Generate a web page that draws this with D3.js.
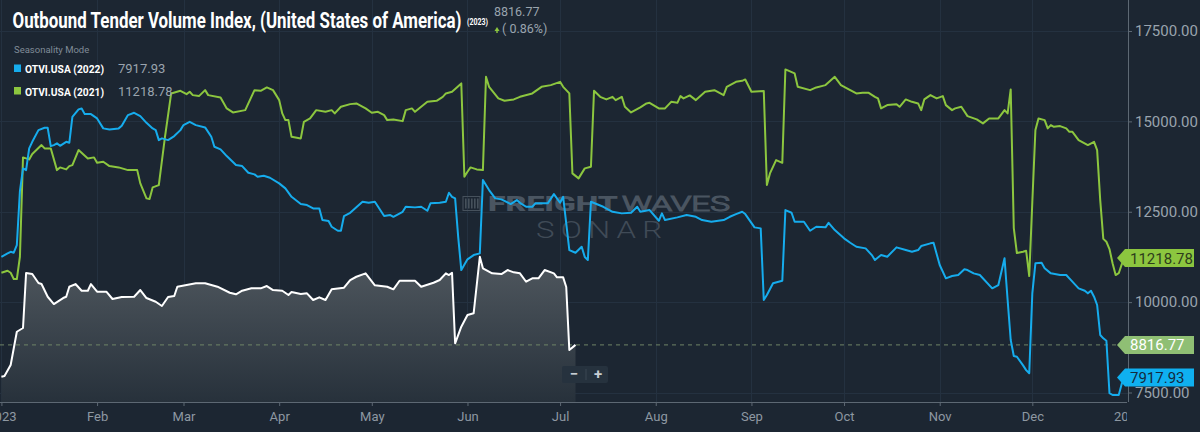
<!doctype html>
<html lang="en">
<head>
<meta charset="utf-8">
<title>Outbound Tender Volume Index</title>
<script src="https://cdn.jsdelivr.net/npm/d3@7"></script>
<style>
  html, body { margin: 0; padding: 0; background: #1c2632; }
  svg { display: block; font-family: Roboto, "Noto Sans", sans-serif; }
</style>
</head>
<body>
<script>
// days are counted from Jan 1 (0 = Jan 1), all series drawn on the 2023 calendar
var days2023 = [0,1,3,5,7,8,10,12,13,15,17,20,21,22,24,26,28,29,31,34,36,39,43,45,47,50,52,54,56,57,
  60,63,66,70,74,76,78,81,84,86,88,91,93,94,97,99,101,103,105,107,111,113,115,118,121,125,127,129,134,136,
  140,142,144,145,146,147,149,151,153,155,156,159,162,164,166,168,170,172,174,176,179,180,182,183,184,186];
var otvi2023 = [7937,7957,8261,9181,9284,10805,10777,10528,10500,10149,9947,10113,10149,10426,10500,10315,10315,10500,10288,10288,
  10086,10141,10149,10334,10113,10011,9892,10141,10169,10426,10473,10520,10520,10426,10260,10216,10315,10382,10382,10445,
  10334,10315,10196,10279,10224,10243,10058,10133,10058,10354,10398,10611,10702,10796,10464,10426,10354,10592,10592,10426,
  10536,10611,10796,10749,10813,8861,9320,9643,9690,11255,10934,10796,10777,10887,10824,10796,10564,10658,10658,10887,
  10796,10686,10686,10420,8675,8817];

var days2022 = [0,2,3,4,5,6,7,8,9,10,12,14,15,16,17,18,19,21,22,23,25,26,27,29,31,33,35,38,39,41,
  43,45,47,49,50,51,52,54,56,58,59,61,63,66,68,69,71,73,76,78,80,82,83,85,87,90,92,94,97,99,
  101,103,104,106,107,109,110,111,113,117,119,121,124,126,127,130,131,134,136,138,139,142,144,145,146,147,148,149,151,153,
  155,156,158,160,162,165,167,168,170,172,173,177,179,181,182,184,186,188,189,190,191,195,198,201,204,206,207,210,213,214,
  215,219,222,225,227,230,234,236,238,240,241,244,246,247,248,250,253,254,256,257,260,262,264,267,268,270,273,275,277,280,
  282,283,285,287,290,293,295,297,298,301,302,304,306,308,310,312,313,315,317,321,323,325,326,327,328,329,331,332,333,334,
  335,337,338,340,343,345,346,349,351,352,353,354,355,356,357,358,359,360,361,362,363,364];
var otvi2022 = [11255,11349,11393,11366,11579,13072,13699,13652,14252,14435,14758,14822,14822,14316,14344,14391,14324,14435,14407,15126,15331,15358,15201,15201,15082,14806,14778,14806,14877,15173,
  15237,15146,14960,14806,14758,14482,14529,14482,14593,14758,14897,14988,14897,14833,14573,14297,14225,14040,13791,13763,13578,13534,13467,13495,13440,13285,13147,12914,12712,12685,
  12593,12593,12270,12242,12085,11974,11974,12381,12472,12776,12748,12776,12381,12408,12361,12499,12638,12621,12638,12527,12732,12748,12776,13025,12914,12870,11800,10887,11183,11302,
  11349,13376,13099,12870,12842,12712,12823,12748,12638,12638,12732,12732,12989,12748,12914,11440,11366,11532,11250,11164,12776,12638,12499,12455,12472,12638,12499,12546,12251,12455,
  12270,12345,12408,12361,12270,12223,12270,12361,12436,12499,12436,12068,12040,10058,10196,10520,10592,12546,12472,12223,12223,11974,12085,12068,12195,11993,11764,11642,11532,11487,
  11302,11164,11302,11255,11515,11440,11393,11440,11551,11626,11642,11026,10658,10722,10749,10907,10888,10796,10749,10382,10473,11211,10058,8952,8510,8490,8250,8120,8031,10243,
  11073,11089,10935,10796,10749,10749,10658,10382,10315,10243,10315,10150,9920,9090,8999,8933,7480,7431,7431,7431,7750,7918];

var days2021 = [0,2,3,4,5,6,7,9,10,13,14,16,18,19,21,22,23,25,28,30,31,33,35,38,41,44,45,47,48,49,
  51,53,55,58,60,61,62,64,66,67,71,73,75,79,82,84,86,88,90,91,92,93,94,97,98,100,102,105,107,108,
  110,113,115,118,120,122,124,125,127,130,131,133,134,136,138,141,143,144,146,149,150,151,152,154,156,157,158,161,163,166,
  168,172,175,178,181,182,184,185,187,189,191,192,194,196,198,199,201,202,204,207,209,210,213,215,217,219,220,221,223,225,
  228,231,234,235,238,240,241,243,247,248,249,251,253,254,257,258,262,264,267,270,272,275,277,279,281,283,284,285,287,290,
  291,293,295,297,298,299,301,303,305,306,308,309,311,313,316,318,320,323,325,326,327,328,329,331,332,333,334,335,336,338,
  339,340,341,343,345,346,347,349,352,354,355,356,357,358,359,360,361,362,363,364];
var otvi2021 = [10813,10868,10813,10639,10639,11255,14004,13948,14095,14344,14252,14252,13652,13727,13672,13763,13791,14205,13976,14004,13854,13882,13763,13727,13652,13652,13285,12870,12851,13174,
  13238,14573,15773,15845,15754,15818,15726,15699,15864,15726,15663,15358,15248,15311,15864,15845,15939,15864,15588,15220,15035,15035,14573,14529,14988,15082,15311,15264,15311,15220,
  15403,15477,15497,15359,15237,15264,15173,15035,15054,15007,15311,15359,15264,15403,15541,15569,15679,15773,15818,16050,13467,13606,13727,13672,13652,16232,15956,15635,15569,15607,
  15679,15773,15956,16003,16094,15956,15773,13561,13423,13700,13744,15845,15679,15607,15679,15588,15679,15403,15248,15386,15497,15513,15359,15359,15541,15513,15699,15635,15718,15588,
  15818,15864,15726,15956,16094,16122,16160,15818,15837,13238,13561,13929,13854,16437,16326,15956,15864,15939,16003,16232,16003,15864,15773,15790,15790,15679,15635,15359,15450,15477,
  15403,15607,15541,15497,15311,15607,15726,15635,15699,15450,15311,15359,15403,15146,15054,14944,15082,15082,15311,15220,15884,12049,11358,11393,11421,10722,12768,14758,15082,15035,
  14806,14897,14850,14869,14806,14711,14711,14482,14344,14435,14206,12823,11750,11670,11468,11073,10749,10800,11050,11219];

var yTicks = [7500, 10000, 12500, 15000, 17500];
var titleText = "Outbound Tender Volume Index, (United States of America)";
var legendNames = ["OTVI.USA (2022)", "OTVI.USA (2021)"];
var legendValues = ["7917.93", "11218.78"];
var lastValue = 8816.77, lastChange = "( 0.86%)";

var W = 1200, H = 432, plotRight = 1128, plotBottom = 402;
var bg = "#1c2632", blue = "#16aced", green = "#8cc63f";

var start = new Date(Date.UTC(2023, 0, 1));
function toDate(d) { return d3.utcDay.offset(start, d); }
function series(days, vals) { return days.map(function(d, i){ return {date: toDate(d), v: vals[i]}; }); }

var s2023 = series(days2023, otvi2023);
var s2022 = series(days2022, otvi2022);
var s2021 = series(days2021, otvi2021);

var x = d3.scaleUtc().domain([start, new Date(Date.UTC(2024, 0, 1))]).range([1.4, plotRight]);
var y = d3.scaleLinear().domain([7500, 17500]).range([392.5, 31]);

var svg = d3.select("body").append("svg").attr("width", W).attr("height", H);
svg.append("rect").attr("width", W).attr("height", H).attr("fill", bg);

var defs = svg.append("defs");
defs.append("clipPath").attr("id", "plot").append("rect")
    .attr("x", 0).attr("y", 0).attr("width", plotRight).attr("height", plotBottom);
var grad = defs.append("linearGradient").attr("id", "fillGrad")
    .attr("gradientUnits", "userSpaceOnUse").attr("x1", 0).attr("x2", 0)
    .attr("y1", y(11255)).attr("y2", plotBottom);
grad.append("stop").attr("offset", "0%").attr("stop-color", "#50585f");
grad.append("stop").attr("offset", "100%").attr("stop-color", "#27313b");

// grid
var monthTicks = x.ticks(d3.utcMonth.every(1));
var grid = svg.append("g").attr("stroke", "#243140").attr("stroke-width", 1);
grid.selectAll(".gx").data(monthTicks).enter().append("line")
    .attr("x1", function(d){ return Math.round(x(d)) + 0.5; })
    .attr("x2", function(d){ return Math.round(x(d)) + 0.5; })
    .attr("y1", 0).attr("y2", plotBottom);
grid.selectAll(".gy").data(yTicks).enter().append("line")
    .attr("x1", 0).attr("x2", plotRight)
    .attr("y1", function(d){ return Math.round(y(d)) + 0.5; })
    .attr("y2", function(d){ return Math.round(y(d)) + 0.5; });

// watermark (sits under the lines)
var wm = svg.append("g");
wm.append("rect").attr("x", 463).attr("y", 196.5).attr("width", 17).attr("height", 14)
    .attr("fill", "none").attr("stroke", "#46515c").attr("stroke-width", 1);
[0, 3, 6, 9, 12].forEach(function(o){
  wm.append("rect").attr("x", 465 + o).attr("y", 198.5).attr("width", 1.6).attr("height", 10).attr("fill", "#46515c");
});
wm.append("text").attr("x", 488).attr("y", 210.5).attr("font-size", 20).attr("font-weight", 900)
    .attr("fill", "#4a5561").attr("textLength", 130).attr("lengthAdjust", "spacingAndGlyphs").text("FREIGHT");
wm.append("text").attr("x", 622).attr("y", 210.5).attr("font-size", 20).attr("font-weight", 300)
    .attr("fill", "none").attr("stroke", "#4a5561").attr("stroke-width", 1.1)
    .attr("textLength", 108).attr("lengthAdjust", "spacingAndGlyphs").text("WAVES");
wm.append("text").attr("transform", "translate(536,237.5) scale(1.3,1)").attr("font-size", 24)
    .attr("font-weight", 300).attr("fill", "#404b57")
    .attr("textLength", 97).attr("lengthAdjust", "spacing").text("SONAR");

var plot = svg.append("g").attr("clip-path", "url(#plot)");

var area = d3.area().x(function(d){ return x(d.date); })
    .y0(plotBottom).y1(function(d){ return y(d.v); });
var line = d3.line().x(function(d){ return x(d.date); }).y(function(d){ return y(d.v); });

plot.append("path").datum(s2023).attr("d", area).attr("fill", "url(#fillGrad)");

plot.append("line").attr("x1", 0).attr("x2", plotRight)
    .attr("y1", y(lastValue)).attr("y2", y(lastValue))
    .attr("stroke", "#6e8466").attr("stroke-width", 1).attr("stroke-dasharray", "4,4");

plot.append("path").datum(s2021).attr("d", line)
    .attr("fill", "none").attr("stroke", green).attr("stroke-width", 2).attr("stroke-linejoin", "round");
plot.append("path").datum(s2022).attr("d", line)
    .attr("fill", "none").attr("stroke", blue).attr("stroke-width", 2).attr("stroke-linejoin", "round");
plot.append("path").datum(s2023).attr("d", line)
    .attr("fill", "none").attr("stroke", "#ffffff").attr("stroke-width", 2).attr("stroke-linejoin", "round");

// zoom buttons
var zb = svg.append("g");
zb.append("rect").attr("x", 562).attr("y", 366).attr("width", 46).attr("height", 17).attr("rx", 2).attr("fill", "#26323e");
zb.append("line").attr("x1", 586).attr("x2", 586).attr("y1", 369).attr("y2", 380).attr("stroke", "#3a4652");
zb.append("text").attr("x", 574).attr("y", 379).attr("text-anchor", "middle").attr("font-size", 15)
    .attr("font-weight", 700).attr("fill", "#c8ced4").text("\u2212");
zb.append("text").attr("x", 598).attr("y", 379).attr("text-anchor", "middle").attr("font-size", 15)
    .attr("font-weight", 700).attr("fill", "#c8ced4").text("+");

// axes
svg.append("line").attr("x1", plotRight + 0.5).attr("x2", plotRight + 0.5).attr("y1", 0).attr("y2", plotBottom)
    .attr("stroke", "#5d6873").attr("stroke-width", 1);

var yAxis = svg.append("g").attr("transform", "translate(" + plotRight + ",0)")
    .call(d3.axisRight(y).tickValues(yTicks).tickFormat(d3.format(".2f")).tickSize(4).tickPadding(3));
yAxis.select(".domain").remove();
yAxis.selectAll("line").attr("stroke", "#5d6873");
yAxis.selectAll("text").attr("fill", "#99a3ad").attr("font-size", 15).attr("font-family", "Roboto");

// x labels are clipped at the plot edges, like the original ("23" ... "20")
defs.append("clipPath").attr("id", "xlab").append("rect")
    .attr("x", 0).attr("y", -2).attr("width", plotRight - 1).attr("height", 40);
var xAxis = svg.append("g").attr("transform", "translate(0," + plotBottom + ")").attr("clip-path", "url(#xlab)")
    .call(d3.axisBottom(x).tickValues(monthTicks).tickSize(4).tickPadding(6)
      .tickFormat(function(d){ return d.getUTCMonth() === 0 ? d3.utcFormat("%Y")(d) : d3.utcFormat("%b")(d); }));
xAxis.select(".domain").attr("stroke", "#5d6873").attr("d", "M0,0.5H" + plotRight);
xAxis.selectAll("line").attr("stroke", "#5d6873");
xAxis.selectAll("text").attr("fill", "#8e98a2").attr("font-size", 13).attr("font-family", "Roboto");

// value badges on the right axis
function badge(val, label, fill, textFill) {
  var cy = y(val), x0 = 1117, x1 = 1194, h = 9;
  svg.append("path").attr("fill", fill)
     .attr("d", "M" + x0 + "," + cy + "L" + (x0 + 8) + "," + (cy - h) + "H" + x1 + "V" + (cy + h) + "H" + (x0 + 8) + "Z");
  svg.append("text").attr("x", x0 + 13).attr("y", cy + 5.5).attr("font-size", 15)
     .attr("fill", textFill).text(label);
}
badge(11218.78, legendValues[1], green, "#2e3e1c");
badge(lastValue, d3.format(".2f")(lastValue), "#8fbf74", "#ffffff");
badge(7917.93, legendValues[0], "#0fb0f0", "#142a3d");

// title
svg.append("text").attr("x", 12.5).attr("y", 27.5).attr("font-size", 22).attr("font-weight", 700)
    .attr("fill", "#ffffff").attr("textLength", 449).attr("lengthAdjust", "spacingAndGlyphs").text(titleText);
svg.append("text").attr("x", 467).attr("y", 25).attr("font-size", 8.5).attr("font-weight", 700)
    .attr("fill", "#ffffff").attr("textLength", 21).attr("lengthAdjust", "spacingAndGlyphs").text("(2023)");
svg.append("text").attr("x", 494).attr("y", 16).attr("font-size", 12.5).attr("fill", "#9aa4ae")
    .text(d3.format(".2f")(lastValue));
svg.append("path").attr("fill", green).attr("d", "M494.5,31 L497,27 L499.5,31 Z M496.3,31 h1.4 v2 h-1.4 Z");
svg.append("text").attr("x", 502).attr("y", 33).attr("font-size", 12.5).attr("fill", "#9aa4ae").text(lastChange);

// legend
svg.append("text").attr("x", 14).attr("y", 53).attr("font-size", 9.5).attr("fill", "#808c98").text("Seasonality Mode");
var legColors = [blue, green];
legendNames.forEach(function(name, i) {
  var by = 73 + i * 22.5;
  svg.append("rect").attr("x", 14).attr("y", by - 8.5).attr("width", 7).attr("height", 7.5).attr("fill", legColors[i]);
  svg.append("text").attr("x", 25).attr("y", by).attr("font-size", 11.5).attr("font-weight", 700)
     .attr("fill", "#ffffff").attr("textLength", 79).attr("lengthAdjust", "spacingAndGlyphs").text(name);
  svg.append("text").attr("x", 118).attr("y", by).attr("font-size", 13).attr("fill", "#9aa4ae").text(legendValues[i]);
});
</script>
</body>
</html>
